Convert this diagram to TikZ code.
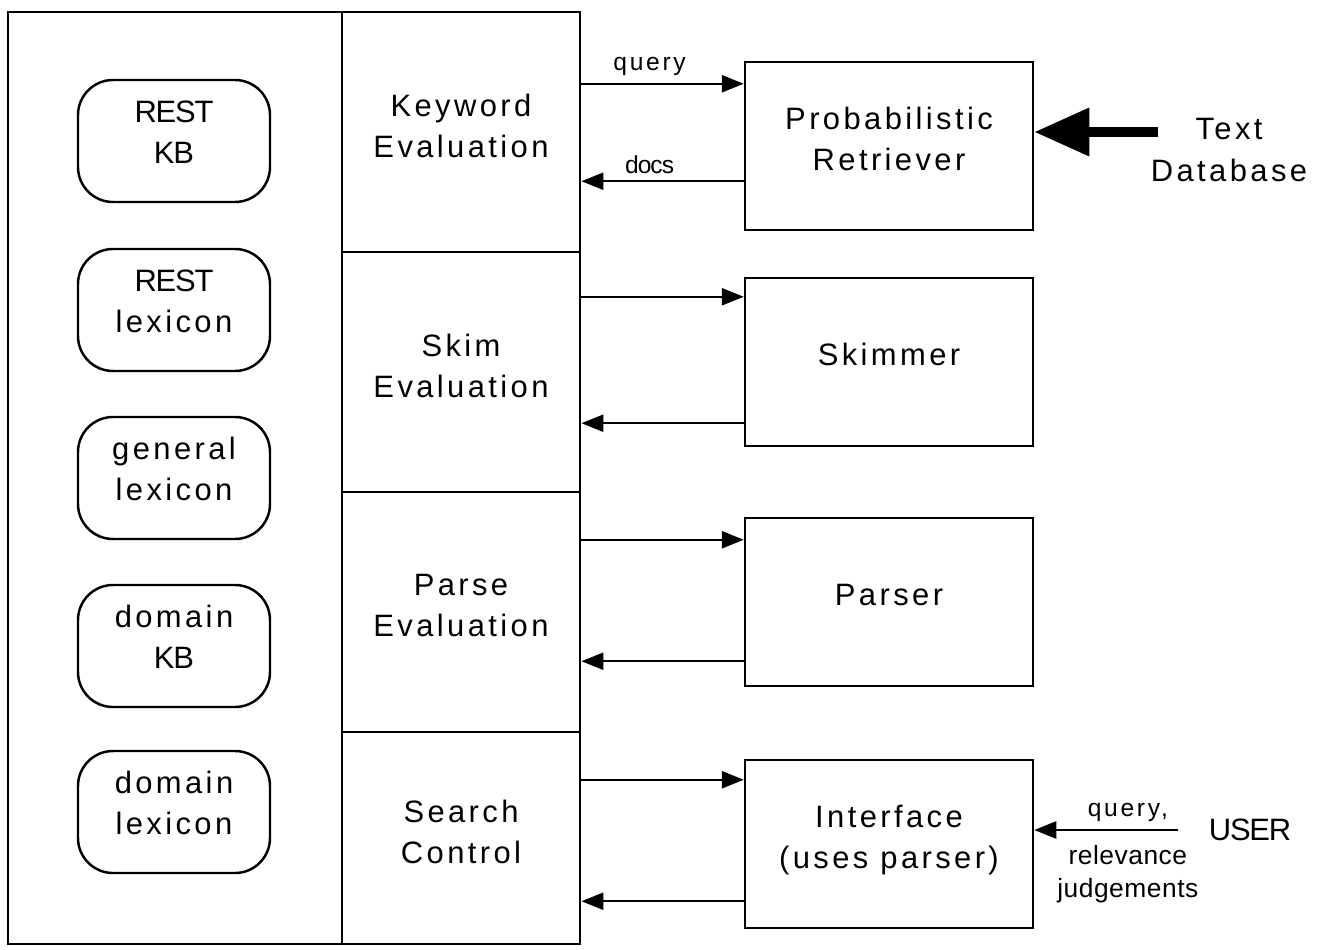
\documentclass[tikz,border=0pt]{standalone}
\usepackage{fontspec}
\setmainfont{Liberation Sans}
\newfontfamily\widefont[LetterSpace=11]{Liberation Sans}
\newfontfamily\narrowfont[LetterSpace=-4]{Liberation Sans}
\newfontfamily\notefont[LetterSpace=2]{Liberation Sans}
\usetikzlibrary{arrows.meta, calc, positioning}

\tikzset{
  panel/.style={draw, line width=0.8pt, minimum width=3.34cm, minimum height=9.32cm, inner sep=0pt},
  evalcell/.style={draw, line width=0.8pt, minimum width=2.38cm, inner sep=0pt, align=center,
    text depth=1.3mm, font=\widefont\fontsize{8.8}{11.7}\selectfont},
  kbbox/.style={draw, rounded corners=0.35cm, line width=0.7pt, minimum width=1.92cm,
    minimum height=1.22cm, inner sep=0pt, align=center, text depth=1.8mm,
    font=\widefont\fontsize{8.8}{11.7}\selectfont},
  modbox/.style={draw, line width=0.7pt, minimum width=2.88cm, minimum height=1.68cm,
    inner sep=0pt, align=center, text depth=1.5mm, font=\widefont\fontsize{8.8}{11.7}\selectfont},
  flow/.style={line width=0.7pt, -{Triangle[length=2.2mm,width=1.7mm]}},
  bigflow/.style={line width=2.8pt, -{Triangle[length=5.5mm,width=4.6mm]}},
  lbl/.style={font=\widefont\fontsize{7}{9}\selectfont, inner sep=2pt},
  sidelbl/.style={font=\widefont\fontsize{8.8}{12.2}\selectfont, align=center, inner sep=0pt}
}

\begin{document}
\begin{tikzpicture}
  \useasboundingbox (0,0) rectangle (13.17,9.49);

  % knowledge bases
  \node[panel] (kbpanel) at (1.75,4.71) {};
  \node[kbbox] (restkb)  at (1.74,8.08) {{\narrowfont REST}\\{\narrowfont KB}};
  \node[kbbox] (restlex) at (1.74,6.39) {{\narrowfont REST}\\lexicon};
  \node[kbbox] (genlex)  at (1.74,4.71) {general\\lexicon};
  \node[kbbox] (domkb)   at (1.74,3.03) {domain\\{\narrowfont KB}};
  \node[kbbox] (domlex)  at (1.74,1.37) {domain\\lexicon};

  % evaluation column
  \node[evalcell, minimum height=2.40cm] (kweval) at (4.61,8.17) {Keyword\\Evaluation};
  \node[evalcell, minimum height=2.40cm] (skeval) at (4.61,5.77) {Skim\\Evaluation};
  \node[evalcell, minimum height=2.40cm] (pseval) at (4.61,3.37) {Parse\\Evaluation};
  \node[evalcell, minimum height=2.12cm] (srch)   at (4.61,1.11) {Search\\Control};

  % modules
  \node[modbox] (prob)    at (8.89,8.03) {Probabilistic\\Retriever};
  \node[modbox] (skimmer) at (8.89,5.87) {Skimmer};
  \node[modbox] (parser)  at (8.89,3.47) {Parser};
  \node[modbox] (iface)   at (8.89,1.05) {Interface\\(uses parser)};

  % calls and answers
  \foreach \cell/\mod/\dn/\up in {kweval/prob/0.23/0.50, skeval/skimmer/0.20/0.24,
                                  pseval/parser/0.23/0.26, srch/iface/0.21/0.28} {
    \draw[flow] ([yshift=-\dn cm]\mod.north west -| \cell.east) -- ([yshift=-\dn cm]\mod.north west);
    \draw[flow] ([yshift=\up cm]\mod.south west) -- ([yshift=\up cm]\mod.south west -| \cell.east);
  }
  \node[lbl, above] (qlbl) at ($([yshift=-0.23cm]prob.north west -| kweval.east)!0.42!([yshift=-0.23cm]prob.north west)$) {query};
  \node[lbl, above] (dlbl) at ($([yshift=0.50cm]prob.south west -| kweval.east)!0.42!([yshift=0.50cm]prob.south west)$) {\narrowfont docs};

  % text database
  \node[sidelbl] (txtdb) at (12.29,7.99) {Text\\Database};
  \coordinate (dbtip) at ([yshift=0.14cm]prob.east);
  \draw[bigflow] (dbtip -| 11.58,0) -- (dbtip);

  % user
  \node[font=\narrowfont\fontsize{8.8}{11}\selectfont, inner sep=0pt] (user) at (12.50,1.19) {USER};
  \coordinate (usrtail) at ([xshift=-0.30cm]user.west);
  \draw[flow] (usrtail) -- (iface.east |- usrtail)
    node[lbl, above, pos=0.35] (qrel) {query,}
    node[below=4pt, pos=0.35, align=center, inner sep=0pt,
         font=\notefont\fontsize{7.5}{9.4}\selectfont] (relj) {relevance\\judgements};
\end{tikzpicture}
\end{document}
